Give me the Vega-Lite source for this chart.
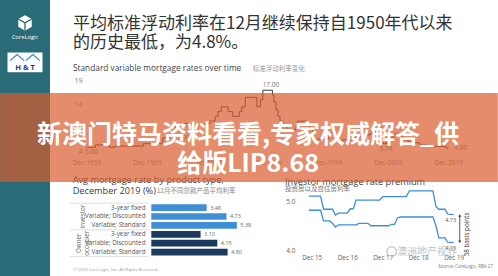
{
  "$schema": "https://vega.github.io/schema/vega-lite/v6.json",
  "background": "#ffffff",
  "padding": 0,
  "spacing": 0,
  "bounds": "flush",
  "config": {
    "view": {"stroke": null},
    "font": "Open Sans",
    "axis": {"grid": false, "ticks": false, "tickSize": 0, "domain": false, "labelFont": "Open Sans", "labelColor": "#666666", "labelFlush": false, "labelOverlap": false}
  },
  "datasets": {
    "svr": [
      {"month": "1959-12-01", "rate": 5.00}, {"month": "1961-06-01", "rate": 5.50}, {"month": "1963-10-01", "rate": 5.00},
      {"month": "1964-08-01", "rate": 5.25}, {"month": "1969-05-01", "rate": 5.75}, {"month": "1972-08-01", "rate": 7.00},
      {"month": "1973-10-01", "rate": 7.75}, {"month": "1974-03-01", "rate": 8.50}, {"month": "1974-09-01", "rate": 9.50},
      {"month": "1976-03-01", "rate": 10.00}, {"month": "1978-06-01", "rate": 9.75}, {"month": "1979-09-01", "rate": 10.00},
      {"month": "1980-06-01", "rate": 10.50}, {"month": "1981-04-01", "rate": 11.50}, {"month": "1981-10-01", "rate": 12.50},
      {"month": "1982-04-01", "rate": 13.50}, {"month": "1983-06-01", "rate": 12.50}, {"month": "1984-03-01", "rate": 11.50},
      {"month": "1985-04-01", "rate": 12.50}, {"month": "1985-09-01", "rate": 13.50}, {"month": "1986-04-01", "rate": 15.50},
      {"month": "1988-03-01", "rate": 13.50}, {"month": "1988-10-01", "rate": 15.00}, {"month": "1989-03-01", "rate": 17.00},
      {"month": "1990-10-01", "rate": 16.00}, {"month": "1991-01-01", "rate": 14.50}, {"month": "1991-05-01", "rate": 13.00},
      {"month": "1991-09-01", "rate": 11.50}, {"month": "1992-01-01", "rate": 10.50}, {"month": "1992-07-01", "rate": 9.50},
      {"month": "1993-03-01", "rate": 8.75}, {"month": "1994-09-01", "rate": 9.50}, {"month": "1994-12-01", "rate": 10.50},
      {"month": "1996-07-01", "rate": 9.75}, {"month": "1996-12-01", "rate": 8.75}, {"month": "1997-06-01", "rate": 7.55},
      {"month": "1997-08-01", "rate": 6.70}, {"month": "1998-12-01", "rate": 6.55}, {"month": "1999-11-01", "rate": 6.80},
      {"month": "2000-03-01", "rate": 7.55}, {"month": "2000-08-01", "rate": 8.05}, {"month": "2001-02-01", "rate": 7.30},
      {"month": "2001-04-01", "rate": 6.80}, {"month": "2001-10-01", "rate": 6.30}, {"month": "2002-05-01", "rate": 6.55},
      {"month": "2003-11-01", "rate": 7.05}, {"month": "2005-03-01", "rate": 7.30}, {"month": "2006-05-01", "rate": 7.55},
      {"month": "2006-11-01", "rate": 7.80}, {"month": "2007-08-01", "rate": 8.05}, {"month": "2007-11-01", "rate": 8.30},
      {"month": "2008-02-01", "rate": 8.55}, {"month": "2008-03-01", "rate": 9.45}, {"month": "2008-07-01", "rate": 9.60},
      {"month": "2008-09-01", "rate": 9.35}, {"month": "2008-10-01", "rate": 8.55}, {"month": "2008-11-01", "rate": 7.40},
      {"month": "2008-12-01", "rate": 6.05}, {"month": "2009-02-01", "rate": 5.80}, {"month": "2009-04-01", "rate": 5.76},
      {"month": "2009-10-01", "rate": 6.15}, {"month": "2009-12-01", "rate": 6.65}, {"month": "2010-04-01", "rate": 7.10},
      {"month": "2010-11-01", "rate": 7.80}, {"month": "2011-11-01", "rate": 7.55}, {"month": "2012-05-01", "rate": 7.05},
      {"month": "2012-10-01", "rate": 6.80}, {"month": "2012-12-01", "rate": 6.45}, {"month": "2013-05-01", "rate": 6.20},
      {"month": "2013-08-01", "rate": 5.95}, {"month": "2015-02-01", "rate": 5.70}, {"month": "2015-05-01", "rate": 5.45},
      {"month": "2016-05-01", "rate": 5.25}, {"month": "2016-08-01", "rate": 5.20}, {"month": "2019-06-01", "rate": 5.05},
      {"month": "2019-07-01", "rate": 4.93}, {"month": "2019-10-01", "rate": 4.80}, {"month": "2019-12-01", "rate": 4.80}
    ],
    "svr_above": [{"month": "1990-07-01", "rate": 17.00}],
    "svr_below": [{"month": "1960-10-01", "rate": 5.00}, {"month": "2009-08-01", "rate": 5.76}],
    "svr_right": [{"month": "1973-12-01", "rate": 7.00}, {"month": "2019-12-01", "rate": 4.80}],
    "products": [
      {"group": "Investor", "product": "3-year fixed", "item": "Investor – 3-year fixed", "rate": 3.48},
      {"group": "Investor", "product": "Variable; Discounted", "item": "Investor – Variable; Discounted", "rate": 4.73},
      {"group": "Investor", "product": "Variable; Standard", "item": "Investor – Variable; Standard", "rate": 5.38},
      {"group": "Owner occupier", "product": "3-year fixed", "item": "Owner occupier – 3-year fixed", "rate": 3.10},
      {"group": "Owner occupier", "product": "Variable; Discounted", "item": "Owner occupier – Variable; Discounted", "rate": 4.15},
      {"group": "Owner occupier", "product": "Variable; Standard", "item": "Owner occupier – Variable; Standard", "rate": 4.80}
    ],
    "premium": [
      {"month": "2015-11-01", "series": "Investor", "rate": 5.11}, {"month": "2016-03-01", "series": "Investor", "rate": 5.11},
      {"month": "2016-04-01", "series": "Investor", "rate": 4.84}, {"month": "2016-07-01", "series": "Investor", "rate": 4.84},
      {"month": "2016-08-01", "series": "Investor", "rate": 4.72}, {"month": "2016-09-01", "series": "Investor", "rate": 4.76},
      {"month": "2016-12-01", "series": "Investor", "rate": 4.76}, {"month": "2017-01-01", "series": "Investor", "rate": 4.85},
      {"month": "2017-02-01", "series": "Investor", "rate": 4.85}, {"month": "2017-03-01", "series": "Investor", "rate": 5.03},
      {"month": "2017-11-01", "series": "Investor", "rate": 5.03}, {"month": "2017-12-01", "series": "Investor", "rate": 5.10},
      {"month": "2018-08-01", "series": "Investor", "rate": 5.10}, {"month": "2018-09-01", "series": "Investor", "rate": 5.22},
      {"month": "2019-05-01", "series": "Investor", "rate": 5.22}, {"month": "2019-06-01", "series": "Investor", "rate": 4.90},
      {"month": "2019-07-01", "series": "Investor", "rate": 4.84}, {"month": "2019-09-01", "series": "Investor", "rate": 4.84},
      {"month": "2019-10-01", "series": "Investor", "rate": 4.74}, {"month": "2019-12-01", "series": "Investor", "rate": 4.73},
      {"month": "2015-11-01", "series": "Owner Occupier", "rate": 4.82}, {"month": "2016-03-01", "series": "Owner Occupier", "rate": 4.82},
      {"month": "2016-04-01", "series": "Owner Occupier", "rate": 4.60}, {"month": "2016-06-01", "series": "Owner Occupier", "rate": 4.60},
      {"month": "2016-07-01", "series": "Owner Occupier", "rate": 4.55}, {"month": "2016-08-01", "series": "Owner Occupier", "rate": 4.47},
      {"month": "2016-09-01", "series": "Owner Occupier", "rate": 4.52}, {"month": "2017-03-01", "series": "Owner Occupier", "rate": 4.52},
      {"month": "2017-04-01", "series": "Owner Occupier", "rate": 4.55}, {"month": "2017-07-01", "series": "Owner Occupier", "rate": 4.55},
      {"month": "2017-08-01", "series": "Owner Occupier", "rate": 4.50}, {"month": "2018-02-01", "series": "Owner Occupier", "rate": 4.50},
      {"month": "2018-03-01", "series": "Owner Occupier", "rate": 4.53}, {"month": "2018-04-01", "series": "Owner Occupier", "rate": 4.53},
      {"month": "2018-05-01", "series": "Owner Occupier", "rate": 4.66}, {"month": "2018-06-01", "series": "Owner Occupier", "rate": 4.68},
      {"month": "2019-05-01", "series": "Owner Occupier", "rate": 4.68}, {"month": "2019-06-01", "series": "Owner Occupier", "rate": 4.50},
      {"month": "2019-07-01", "series": "Owner Occupier", "rate": 4.25}, {"month": "2019-09-01", "series": "Owner Occupier", "rate": 4.25},
      {"month": "2019-10-01", "series": "Owner Occupier", "rate": 4.16}, {"month": "2019-12-01", "series": "Owner Occupier", "rate": 4.15}
    ],
    "premium_end": [
      {"month": "2019-12-01", "series": "Investor", "rate": 4.73},
      {"month": "2019-12-01", "series": "Owner Occupier", "rate": 4.15}
    ]
  },
  "hconcat": [
    {
      "width": 50,
      "height": 276,
      "view": {"fill": "#296b76", "stroke": null},
      "data": {"values": [{}]},
      "layer": [
        {"mark": {"type": "point", "shape": "M0,-1L0.87,-0.5L0.87,0.5L0,1L-0.87,0.5L-0.87,-0.5Z", "filled": true, "color": "#ffffff", "opacity": 1, "size": 240},
         "encoding": {"y": {"datum": 8.3, "type": "quantitative", "scale": {"domain": [0, 100], "reverse": true, "nice": false, "zero": false}, "axis": null}}},
        {"mark": {"type": "point", "shape": "M0,0L0,1M0,0L0.87,-0.5M0,0L-0.87,-0.5", "filled": false, "stroke": "#296b76", "strokeWidth": 1.3, "opacity": 1, "size": 240},
         "encoding": {"y": {"datum": 8.3, "type": "quantitative"}}},
        {"mark": {"type": "text", "text": "CoreLogic", "color": "#ffffff", "fontSize": 5.8, "baseline": "middle"},
         "encoding": {"y": {"datum": 13.4, "type": "quantitative"}}},
        {"mark": {"type": "point", "shape": "M-1,-0.57H1V0.57H-1Z", "filled": true, "color": "#ffffff", "opacity": 1, "size": 1225},
         "encoding": {"y": {"datum": 22.6, "type": "quantitative"}}},
        {"mark": {"type": "point", "shape": "M-0.85,-0.1L-0.45,-0.45L-0.05,-0.1M0.05,-0.1L0.45,-0.45L0.85,-0.1", "filled": false, "stroke": "#3b82c4", "strokeWidth": 1.2, "opacity": 1, "size": 1225},
         "encoding": {"y": {"datum": 22.6, "type": "quantitative"}}},
        {"mark": {"type": "text", "text": "H & T", "color": "#1f3d7a", "fontSize": 7.5, "fontWeight": "bold", "baseline": "middle"},
         "encoding": {"y": {"datum": 24.5, "type": "quantitative"}}}
      ]
    },
    {
      "spacing": 33,
      "bounds": "flush",
      "vconcat": [
        {
          "width": 448,
          "height": 157,
          "title": {
            "text": ["平均标准浮动利率在12月继续保持自1950年代以来", "的历史最低，为4.8%。"],
            "subtitle": "Standard variable mortgage rates over time",
            "anchor": "start", "frame": "group", "dx": 23, "offset": -73,
            "font": "Noto Sans CJK SC", "fontSize": 17, "fontWeight": "normal", "color": "#333333", "lineHeight": 19,
            "subtitleFont": "Open Sans", "subtitleFontSize": 8.3, "subtitleColor": "#444444", "subtitlePadding": 12
          },
          "layer": [
            {
              "data": {"name": "svr"},
              "mark": {"type": "line", "interpolate": "step-after", "color": "#3d3d3d", "strokeWidth": 1, "clip": false},
              "encoding": {
                "x": {"field": "month", "type": "temporal",
                      "scale": {"domain": [{"year": 1953, "month": 11, "date": 11}, {"year": 2028, "month": 2, "date": 27}]},
                      "axis": {"values": [{"year": 1959, "month": 12, "date": 1}, {"year": 1969, "month": 12, "date": 1}, {"year": 1979, "month": 12, "date": 1}, {"year": 1989, "month": 12, "date": 1}, {"year": 1999, "month": 12, "date": 1}, {"year": 2009, "month": 12, "date": 1}, {"year": 2019, "month": 12, "date": 1}],
                               "format": "%b-%Y", "labelFontSize": 6.5, "labelColor": "#8a8a8a", "labelPadding": 2, "title": null}},
                "y": {"field": "rate", "type": "quantitative",
                      "scale": {"domain": [2.947, 36.0], "zero": false, "nice": false},
                      "axis": {"values": [4, 9, 14, 19], "offset": -34, "labelPadding": 2, "labelFontSize": 7, "labelColor": "#777777", "title": null}}
              }
            },
            {
              "data": {"name": "svr_above"},
              "mark": {"type": "text", "baseline": "bottom", "dy": -2, "fontSize": 6.5, "color": "#777777"},
              "encoding": {"x": {"field": "month", "type": "temporal"}, "y": {"field": "rate", "type": "quantitative"}, "text": {"field": "rate", "format": ".2f"}}
            },
            {
              "data": {"name": "svr_below"},
              "mark": {"type": "text", "baseline": "top", "dy": 2, "fontSize": 6.5, "color": "#777777"},
              "encoding": {"x": {"field": "month", "type": "temporal"}, "y": {"field": "rate", "type": "quantitative"}, "text": {"field": "rate", "format": ".2f"}}
            },
            {
              "data": {"name": "svr_right"},
              "mark": {"type": "text", "align": "left", "baseline": "middle", "dx": 6, "fontSize": 6.5, "color": "#777777"},
              "encoding": {"x": {"field": "month", "type": "temporal"}, "y": {"field": "rate", "type": "quantitative"}, "text": {"field": "rate", "format": ".2f"}}
            },
            {
              "data": {"values": [{}]},
              "mark": {"type": "text", "text": "标准浮动利率变化", "align": "left", "baseline": "middle", "fontSize": 6.5, "color": "#999999", "font": "Noto Sans CJK SC", "clip": false},
              "encoding": {"x": {"datum": {"year": 1987, "month": 7, "date": 1}, "type": "temporal"}, "y": {"datum": 21.47, "type": "quantitative"}}
            }
          ]
        },
        {
          "spacing": 10,
          "bounds": "flush",
          "hconcat": [
            {
              "width": 238,
              "height": 69,
              "data": {"name": "products"},
              "title": {
                "text": ["Avg mortgage rate by product type,", "December 2019 (%)"],
                "anchor": "start", "frame": "group", "dx": 22.7, "offset": -9,
                "font": "Open Sans", "fontSize": 9.2, "fontWeight": "normal", "color": "#404040", "lineHeight": 11
              },
              "layer": [
                {
                  "mark": {"type": "bar"},
                  "encoding": {
                    "y": {"field": "item", "type": "nominal", "sort": null,
                          "scale": {"domain": ["Investor – 3-year fixed", "Investor – Variable; Discounted", "Investor – Variable; Standard", "Owner occupier – 3-year fixed", "Owner occupier – Variable; Discounted", "Owner occupier – Variable; Standard"],
                                    "paddingInner": 0.25, "paddingOuter": 1.4375, "align": 0.8},
                          "axis": {"orient": "left", "offset": -97, "labelPadding": 2, "labelFontSize": 6.3, "labelColor": "#555555", "labelExpr": "split(datum.label, ' – ')[1]", "title": null}},
                    "x": {"field": "rate", "type": "quantitative", "scale": {"domain": [-6.371, 8.597], "nice": false, "zero": false}, "axis": null},
                    "color": {"field": "group", "type": "nominal", "scale": {"domain": ["Investor", "Owner occupier"], "range": ["#3f8ed6", "#1c3a5e"]}, "legend": null}
                  }
                },
                {
                  "mark": {"type": "text", "align": "left", "baseline": "middle", "dx": 3.5, "fontSize": 5.5, "color": "#666666"},
                  "encoding": {"y": {"field": "item", "type": "nominal", "sort": null}, "x": {"field": "rate", "type": "quantitative"}, "text": {"field": "rate", "format": ".2f"}}
                },
                {
                  "transform": [{"filter": "datum.group === 'Investor' && datum.product === 'Variable; Discounted'"}],
                  "mark": {"type": "text", "angle": 270, "align": "center", "baseline": "middle", "fontSize": 6.3, "color": "#666666", "clip": false},
                  "encoding": {"y": {"field": "item", "type": "nominal", "sort": null}, "x": {"datum": -4.29, "type": "quantitative"}, "text": {"field": "group"}}
                },
                {
                  "transform": [{"filter": "datum.group === 'Owner occupier' && datum.product === 'Variable; Discounted'"}],
                  "mark": {"type": "text", "angle": 270, "align": "center", "baseline": "middle", "fontSize": 6.3, "lineHeight": 7.7, "lineBreak": " ", "color": "#666666", "clip": false},
                  "encoding": {"y": {"field": "item", "type": "nominal", "sort": null}, "x": {"datum": -4.557, "type": "quantitative"}, "text": {"field": "group"}}
                },
                {
                  "transform": [{"filter": "datum.item === 'Investor – 3-year fixed'"}],
                  "mark": {"type": "rule", "color": "#cfcfcf", "strokeWidth": 0.7, "clip": false},
                  "encoding": {"y": {"field": "item", "type": "nominal", "sort": null, "bandPosition": -0.17}, "x": {"datum": -5.11, "type": "quantitative"}, "x2": {"datum": -0.21}}
                },
                {
                  "transform": [{"filter": "datum.product === 'Variable; Standard'"}],
                  "mark": {"type": "rule", "color": "#cfcfcf", "strokeWidth": 0.7, "clip": false},
                  "encoding": {"y": {"field": "item", "type": "nominal", "sort": null, "bandPosition": 1.17}, "x": {"datum": -5.11, "type": "quantitative"}, "x2": {"datum": -0.21}}
                },
                {
                  "data": {"values": [{}]},
                  "mark": {"type": "text", "text": "12月不同贷款产品平均利率", "align": "left", "baseline": "middle", "dy": -17, "fontSize": 6.5, "font": "Noto Sans CJK SC", "color": "#888888", "clip": false},
                  "encoding": {"x": {"datum": 0.34, "type": "quantitative"}, "y": {"datum": "Investor – 3-year fixed", "type": "nominal"}}
                },
                {
                  "data": {"values": [{}]},
                  "mark": {"type": "text", "text": "© 2020 CoreLogic, Inc. All Rights Reserved.", "align": "left", "baseline": "middle", "dy": 17.4, "fontSize": 4.3, "color": "#9a9a9a", "clip": false},
                  "encoding": {"x": {"datum": -4.9, "type": "quantitative"}, "y": {"datum": "Owner occupier – Variable; Standard", "type": "nominal"}}
                }
              ]
            },
            {
              "width": 170,
              "height": 60,
              "layer": [
                {
                  "data": {"values": [{}]},
                  "mark": {"type": "text", "text": "Investor mortgage rate premium", "align": "left", "baseline": "middle", "fontSize": 9.2, "color": "#404040", "clip": false},
                  "encoding": {"x": {"datum": {"year": 2015, "month": 3, "date": 1}, "type": "temporal"}, "y": {"datum": 5.408, "type": "quantitative"}}
                },
                {
                  "data": {"values": [{}]},
                  "mark": {"type": "text", "text": "投资房以及自住房利率", "align": "left", "baseline": "middle", "fontSize": 6.5, "font": "Noto Sans CJK SC", "color": "#777777", "clip": false},
                  "encoding": {"x": {"datum": {"year": 2015, "month": 3, "date": 1}, "type": "temporal"}, "y": {"datum": 5.251, "type": "quantitative"}}
                },
                {
                  "data": {"name": "premium"},
                  "mark": {"type": "line", "strokeWidth": 1.3, "clip": false},
                  "encoding": {
                    "x": {"field": "month", "type": "temporal",
                          "scale": {"domain": [{"year": 2015, "month": 7, "date": 13}, {"year": 2020, "month": 4, "date": 26}]},
                          "axis": {"values": [{"year": 2015, "month": 12, "date": 1}, {"year": 2016, "month": 12, "date": 1}, {"year": 2017, "month": 12, "date": 1}, {"year": 2018, "month": 12, "date": 1}, {"year": 2019, "month": 12, "date": 1}],
                                   "format": "%b %y", "labelFontSize": 6.3, "labelColor": "#666666", "labelPadding": 4, "title": null}},
                    "y": {"field": "rate", "type": "quantitative",
                          "scale": {"domain": [4.0, 5.237], "zero": false, "nice": false},
                          "axis": {"values": [4.0, 4.5, 5.0], "format": ".1f", "labelPadding": 3, "labelFontSize": 6.5, "labelColor": "#666666", "title": null}},
                    "color": {"field": "series", "type": "nominal",
                              "scale": {"domain": ["Owner Occupier", "Investor"], "range": ["#74aadb", "#2e333a"]},
                              "legend": {"orient": "none", "legendX": 15, "legendY": 52, "direction": "horizontal", "title": null,
                                         "labelFontSize": 5, "labelColor": "#555555", "labelFont": "Noto Sans CJK SC",
                                         "symbolType": "stroke", "symbolStrokeWidth": 1.3, "symbolSize": 180, "labelOffset": 2, "columnPadding": 3,
                                         "labelExpr": "datum.label === 'Investor' ? 'Investor 投资' : 'Owner Occupier 自住'"}}
                  }
                },
                {
                  "data": {"name": "premium_end"},
                  "mark": {"type": "text", "align": "center", "baseline": "top", "dx": -3, "dy": 3, "fontSize": 5.5, "color": "#555555"},
                  "encoding": {"x": {"field": "month", "type": "temporal"}, "y": {"field": "rate", "type": "quantitative"}, "text": {"field": "rate", "format": ".2f"}}
                },
                {
                  "data": {"values": [{}]},
                  "mark": {"type": "rule", "color": "#333333", "strokeWidth": 0.8, "clip": false},
                  "encoding": {"x": {"datum": {"year": 2020, "month": 2, "date": 1}, "type": "temporal"}, "y": {"datum": 4.72, "type": "quantitative"}, "y2": {"datum": 4.16}}
                },
                {
                  "data": {"values": [{}]},
                  "mark": {"type": "point", "shape": "triangle-up", "filled": true, "color": "#333333", "opacity": 1, "size": 8, "clip": false},
                  "encoding": {"x": {"datum": {"year": 2020, "month": 2, "date": 1}, "type": "temporal"}, "y": {"datum": 4.71, "type": "quantitative"}}
                },
                {
                  "data": {"values": [{}]},
                  "mark": {"type": "point", "shape": "triangle-down", "filled": true, "color": "#333333", "opacity": 1, "size": 8, "clip": false},
                  "encoding": {"x": {"datum": {"year": 2020, "month": 2, "date": 1}, "type": "temporal"}, "y": {"datum": 4.17, "type": "quantitative"}}
                },
                {
                  "data": {"values": [{}]},
                  "mark": {"type": "text", "text": "58 basis points", "angle": 270, "align": "center", "baseline": "middle", "fontSize": 6.3, "color": "#333333", "clip": false},
                  "encoding": {"x": {"datum": {"year": 2020, "month": 4, "date": 19}, "type": "temporal"}, "y": {"datum": 4.32, "type": "quantitative"}}
                },
                {
                  "data": {"values": [{}]},
                  "mark": {"type": "text", "text": "Source: CoreLogic, RBA    27", "align": "right", "baseline": "middle", "fontSize": 4.5, "color": "#777777", "clip": false},
                  "encoding": {"x": {"datum": {"year": 2021, "month": 1, "date": 8}, "type": "temporal"}, "y": {"datum": 3.643, "type": "quantitative"}}
                },
                {
                  "data": {"values": [{}]},
                  "mark": {"type": "point", "shape": "circle", "filled": false, "stroke": "#bdbdbd", "strokeWidth": 1.2, "opacity": 0.9, "size": 90, "clip": false},
                  "encoding": {"x": {"datum": {"year": 2018, "month": 3, "date": 3}, "type": "temporal"}, "y": {"datum": 3.97, "type": "quantitative"}}
                },
                {
                  "data": {"values": [{}]},
                  "mark": {"type": "text", "text": "澳洲地产视界", "align": "left", "baseline": "middle", "fontSize": 10, "font": "Noto Sans CJK SC", "color": "#bdbdbd", "opacity": 0.9, "clip": false},
                  "encoding": {"x": {"datum": {"year": 2018, "month": 4, "date": 26}, "type": "temporal"}, "y": {"datum": 3.959, "type": "quantitative"}}
                },
                {
                  "data": {"values": [{}]},
                  "mark": {"type": "rect", "color": "#d85b2d", "opacity": 0.7, "clip": false},
                  "encoding": {"x": {"datum": {"year": 2007, "month": 2, "date": 20}, "type": "temporal"}, "x2": {"datum": {"year": 2021, "month": 2, "date": 27}}, "y": {"datum": 7.237, "type": "quantitative"}, "y2": {"datum": 5.402}}
                },
                {
                  "data": {"values": [{}]},
                  "mark": {"type": "text", "text": ["新澳门特马资料看看,专家权威解答_供", "给版LIP8.68"], "font": "Noto Sans CJK SC", "fontWeight": "bold", "fontSize": 25, "lineHeight": 29, "color": "#ffffff", "align": "center", "baseline": "middle", "clip": false},
                  "encoding": {"x": {"datum": {"year": 2014, "month": 2, "date": 14}, "type": "temporal"}, "y": {"datum": 6.361, "type": "quantitative"}}
                }
              ]
            }
          ]
        }
      ]
    }
  ]
}
